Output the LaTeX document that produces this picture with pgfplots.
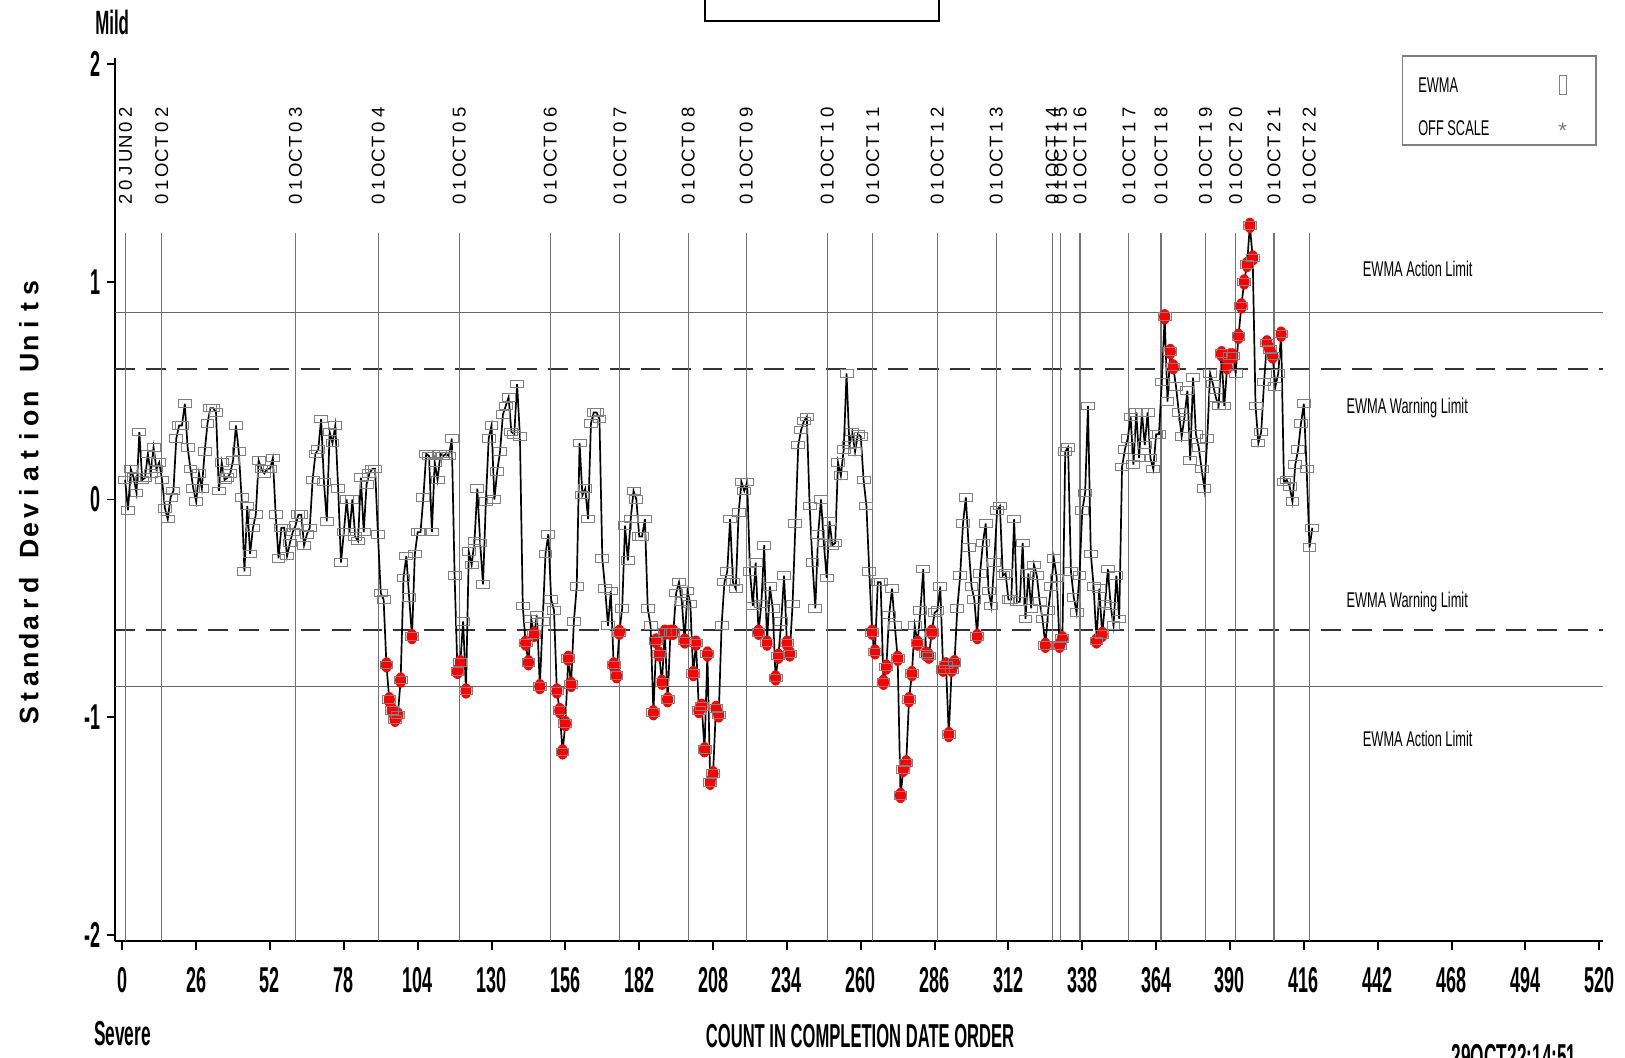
\documentclass[border=0pt]{standalone}
\usepackage{fontspec}
\setmainfont{Liberation Sans}
\newfontfamily\cond[FakeStretch=0.5]{Liberation Sans}
\newfontfamily\condm[FakeStretch=0.6]{Liberation Sans}
\usepackage{pgfplots}
\pgfplotsset{compat=1.18}
\usepackage{pgfplotstable}

\pgfplotstableread{
x y
1 0.09
2 -0.05
3 0.14
4 0.10
5 0.03
6 0.31
7 0.09
8 0.10
9 0.21
10 0.12
11 0.24
12 0.14
13 0.17
14 0.09
15 -0.04
16 -0.09
17 0.01
18 0.04
19 0.28
20 0.34
21 0.34
22 0.44
23 0.24
24 0.14
25 0.05
26 -0.01
27 0.12
28 0.05
29 0.22
30 0.35
31 0.42
32 0.42
33 0.40
34 0.04
35 0.17
36 0.09
37 0.10
38 0.12
39 0.18
40 0.34
41 0.22
42 0.01
43 -0.33
44 -0.03
45 -0.25
46 -0.13
47 -0.07
48 0.18
49 0.14
50 0.12
51 0.14
52 0.14
53 0.19
54 -0.07
55 -0.27
56 -0.13
57 -0.13
58 -0.26
59 -0.20
60 -0.15
61 -0.12
62 -0.07
63 -0.07
64 -0.21
65 -0.16
66 -0.13
67 0.09
68 0.21
69 0.23
70 0.37
71 0.08
72 -0.10
73 0.31
74 0.26
75 0.34
76 0.05
77 -0.29
78 -0.15
79 0.00
80 -0.15
81 0.00
82 -0.17
83 -0.19
84 0.10
85 -0.15
86 0.07
87 0.12
88 0.14
89 0.14
90 -0.16
91 -0.43
92 -0.46
93 -0.76
94 -0.92
95 -0.97
96 -1.01
97 -0.99
98 -0.83
99 -0.36
100 -0.26
101 -0.45
102 -0.63
103 -0.25
104 -0.15
105 -0.15
106 0.01
107 0.21
108 0.20
109 -0.15
110 0.17
111 0.09
112 0.21
113 0.20
114 0.21
115 0.20
116 0.28
117 -0.35
118 -0.79
119 -0.75
120 -0.56
121 -0.88
122 -0.24
123 -0.30
124 -0.19
125 0.05
126 -0.20
127 -0.39
128 -0.01
129 0.28
130 0.34
131 0.00
132 0.13
133 0.22
134 0.39
135 0.43
136 0.47
137 0.31
138 0.30
139 0.53
140 0.29
141 -0.49
142 -0.66
143 -0.75
144 -0.55
145 -0.62
146 -0.53
147 -0.86
148 -0.56
149 -0.25
150 -0.16
151 -0.46
152 -0.51
153 -0.88
154 -0.97
155 -1.16
156 -1.03
157 -0.73
158 -0.85
159 -0.56
160 -0.40
161 0.26
162 0.02
163 0.05
164 -0.09
165 0.35
166 0.40
167 0.40
168 0.37
169 -0.27
170 -0.41
171 -0.58
172 -0.42
173 -0.76
174 -0.81
175 -0.61
176 -0.50
177 -0.12
178 -0.28
179 -0.09
180 0.04
181 0.00
182 -0.17
183 -0.17
184 -0.09
185 -0.50
186 -0.58
187 -0.98
188 -0.65
189 -0.71
190 -0.84
191 -0.61
192 -0.92
193 -0.61
194 -0.61
195 -0.43
196 -0.38
197 -0.47
198 -0.65
199 -0.42
200 -0.48
201 -0.80
202 -0.66
203 -0.97
204 -0.95
205 -1.15
206 -0.71
207 -1.30
208 -1.26
209 -0.96
210 -0.99
211 -0.58
212 -0.38
213 -0.33
214 -0.09
215 -0.38
216 -0.41
217 -0.06
218 0.08
219 0.04
220 0.08
221 -0.33
222 -0.49
223 -0.29
224 -0.61
225 -0.48
226 -0.21
227 -0.66
228 -0.40
229 -0.50
230 -0.82
231 -0.72
232 -0.56
233 -0.35
234 -0.66
235 -0.71
236 -0.48
237 -0.11
238 0.25
239 0.32
240 0.36
241 0.38
242 -0.03
243 -0.29
244 -0.50
245 -0.16
246 0.00
247 -0.20
248 -0.36
249 -0.10
250 -0.21
251 -0.20
252 0.17
253 0.11
254 0.23
255 0.58
256 0.25
257 0.31
258 0.22
259 0.30
260 0.29
261 0.09
262 -0.03
263 -0.33
264 -0.61
265 -0.70
266 -0.38
267 -0.38
268 -0.84
269 -0.77
270 -0.53
271 -0.41
272 -0.58
273 -0.73
274 -1.36
275 -1.24
276 -1.21
277 -0.92
278 -0.80
279 -0.58
280 -0.66
281 -0.51
282 -0.32
283 -0.71
284 -0.72
285 -0.61
286 -0.52
287 -0.51
288 -0.40
289 -0.78
290 -0.76
291 -1.08
292 -0.78
293 -0.75
294 -0.50
295 -0.35
296 -0.11
297 0.01
298 -0.22
299 -0.40
300 -0.46
301 -0.63
302 -0.34
303 -0.20
304 -0.11
305 -0.42
306 -0.49
307 -0.29
308 -0.05
309 -0.03
310 -0.35
311 -0.34
312 -0.46
313 -0.46
314 -0.09
315 -0.47
316 -0.47
317 -0.20
318 -0.55
319 -0.34
320 -0.50
321 -0.30
322 -0.35
323 -0.47
324 -0.55
325 -0.67
326 -0.51
327 -0.40
328 -0.27
329 -0.36
330 -0.67
331 -0.64
332 0.22
333 0.24
334 -0.33
335 -0.45
336 -0.52
337 -0.35
338 -0.05
339 0.03
340 0.43
341 -0.25
342 -0.40
343 -0.65
344 -0.41
345 -0.62
346 -0.48
347 -0.32
348 -0.49
349 -0.58
350 -0.35
351 -0.55
352 0.15
353 0.23
354 0.28
355 0.38
356 0.16
357 0.40
358 0.19
359 0.40
360 0.25
361 0.40
362 0.19
363 0.14
364 0.30
365 0.30
366 0.54
367 0.84
368 0.45
369 0.68
370 0.61
371 0.52
372 0.40
373 0.29
374 0.38
375 0.50
376 0.18
377 0.56
378 0.30
379 0.24
380 0.14
381 0.05
382 0.28
383 0.58
384 0.53
385 0.47
386 0.43
387 0.67
388 0.43
389 0.61
390 0.66
391 0.66
392 0.58
393 0.75
394 0.89
395 1.00
396 1.08
397 1.26
398 1.11
399 0.43
400 0.26
401 0.31
402 0.54
403 0.72
404 0.69
405 0.66
406 0.52
407 0.58
408 0.76
409 0.08
410 0.09
411 0.06
412 -0.01
413 0.16
414 0.23
415 0.35
416 0.44
417 0.14
418 -0.22
419 -0.13
}\ewma

\makeatletter
\newlength\cellw
\def\spreadout#1{\sp@read#1\relax}
\def\sp@read#1{\ifx#1\relax\else\makebox[\cellw]{#1}\expandafter\sp@read\fi}
\makeatother
\newcommand\datelab[1]{{\fontsize{6.6}{7}\selectfont\setlength\cellw{5.16pt}\spreadout{#1}}}
\colorlet{dline}{black!55}

\begin{document}
\begin{tikzpicture}
\begin{axis}[
  at={(40.99pt,41.20pt)}, anchor=south west,
  scale only axis, width=529.5pt, height=314.3pt,
  xmin=-2.5, xmax=521.5, ymin=-2.03, ymax=2.03,
  axis x line*=bottom, axis y line*=left,
  axis line style={black, line width=0.8pt},
  xtick={0,26,...,520},
  ytick={-2,-1,0,1,2},
  yticklabels={-2,-1,0,1,2},
  tick align=outside, major tick length=3pt,
  tick style={black, line width=0.7pt},
  /pgf/number format/assume math mode=true,
  xticklabel style={font=\cond\bfseries\fontsize{12.8}{13}\selectfont, inner sep=0pt, anchor=north, yshift=-6pt},
  yticklabel style={font=\cond\bfseries\fontsize{12.8}{13}\selectfont, inner sep=0pt, anchor=east, xshift=-2pt},
  clip=false,
]
% limit lines
\draw[black!60, line width=0.4pt] (axis cs:-2.5,0.86) -- (axis cs:521.5,0.86);
\draw[black!60, line width=0.4pt] (axis cs:-2.5,-0.86) -- (axis cs:521.5,-0.86);
\draw[black!80, line width=0.5pt, dash pattern=on 7pt off 4pt] (axis cs:-2.5,0.6) -- (axis cs:521.5,0.6);
\draw[black!80, line width=0.5pt, dash pattern=on 7pt off 4pt] (axis cs:-2.5,-0.6) -- (axis cs:521.5,-0.6);
% date reference lines
\begin{scope}[dline, line width=0.4pt]
\draw (axis cs:1.1,-2.03) -- (axis cs:1.1,1.224);
\draw (axis cs:13.9,-2.03) -- (axis cs:13.9,1.224);
\draw (axis cs:61,-2.03) -- (axis cs:61,1.224);
\draw (axis cs:90.1,-2.03) -- (axis cs:90.1,1.224);
\draw (axis cs:118.6,-2.03) -- (axis cs:118.6,1.224);
\draw (axis cs:150.7,-2.03) -- (axis cs:150.7,1.224);
\draw (axis cs:175.2,-2.03) -- (axis cs:175.2,1.224);
\draw (axis cs:199.3,-2.03) -- (axis cs:199.3,1.224);
\draw (axis cs:219.7,-2.03) -- (axis cs:219.7,1.224);
\draw (axis cs:248.2,-2.03) -- (axis cs:248.2,1.224);
\draw (axis cs:264.2,-2.03) -- (axis cs:264.2,1.224);
\draw (axis cs:286.9,-2.03) -- (axis cs:286.9,1.224);
\draw (axis cs:307.7,-2.03) -- (axis cs:307.7,1.224);
\draw (axis cs:327.4,-2.03) -- (axis cs:327.4,1.224);
\draw (axis cs:330.3,-2.03) -- (axis cs:330.3,1.224);
\draw (axis cs:337.2,-2.03) -- (axis cs:337.2,1.224);
\draw (axis cs:354.4,-2.03) -- (axis cs:354.4,1.224);
\draw (axis cs:365.7,-2.03) -- (axis cs:365.7,1.224);
\draw (axis cs:381.4,-2.03) -- (axis cs:381.4,1.224);
\draw (axis cs:392,-2.03) -- (axis cs:392,1.224);
\draw (axis cs:405.5,-2.03) -- (axis cs:405.5,1.224);
\draw (axis cs:417.9,-2.03) -- (axis cs:417.9,1.224);
\end{scope}
% date labels
\begin{scope}[every node/.style={rotate=90, anchor=west, inner sep=0pt}]
\node at (axis cs:1.1,1.343) {\datelab{20JUN02}};
\node at (axis cs:13.9,1.343) {\datelab{01OCT02}};
\node at (axis cs:61,1.343) {\datelab{01OCT03}};
\node at (axis cs:90.1,1.343) {\datelab{01OCT04}};
\node at (axis cs:118.6,1.343) {\datelab{01OCT05}};
\node at (axis cs:150.7,1.343) {\datelab{01OCT06}};
\node at (axis cs:175.2,1.343) {\datelab{01OCT07}};
\node at (axis cs:199.3,1.343) {\datelab{01OCT08}};
\node at (axis cs:219.7,1.343) {\datelab{01OCT09}};
\node at (axis cs:248.2,1.343) {\datelab{01OCT10}};
\node at (axis cs:264.2,1.343) {\datelab{01OCT11}};
\node at (axis cs:286.9,1.343) {\datelab{01OCT12}};
\node at (axis cs:307.7,1.343) {\datelab{01OCT13}};
\node at (axis cs:327.4,1.343) {\datelab{01OCT14}};
\node at (axis cs:330.3,1.343) {\datelab{01OCT15}};
\node at (axis cs:337.2,1.343) {\datelab{01OCT16}};
\node at (axis cs:354.4,1.343) {\datelab{01OCT17}};
\node at (axis cs:365.7,1.343) {\datelab{01OCT18}};
\node at (axis cs:381.4,1.343) {\datelab{01OCT19}};
\node at (axis cs:392,1.343) {\datelab{01OCT20}};
\node at (axis cs:405.5,1.343) {\datelab{01OCT21}};
\node at (axis cs:417.9,1.343) {\datelab{01OCT22}};
\end{scope}
% limit labels
\begin{scope}[every node/.style={font=\condm\fontsize{7.6}{8}\selectfont, inner sep=0pt}]
\node at (axis cs:456.1,1.06) {EWMA Action Limit};
\node at (axis cs:452.4,0.42) {EWMA Warning Limit};
\node at (axis cs:452.4,-0.47) {EWMA Warning Limit};
\node at (axis cs:456.1,-1.10) {EWMA Action Limit};
\end{scope}
% data
\addplot[only marks, mark=*, color=red, mark size=2.2pt,
  mark options={xscale=0.8, yscale=1.15},
  y filter/.expression={abs(y)>0.595 ? y : nan}, unbounded coords=discard]
  table[x=x, y=y] {\ewma};
\addplot[black, line width=0.6pt, mark=square, mark size=1.35pt,
  mark options={draw=gray, line width=0.35pt, xscale=1.7, solid}]
  table[x=x, y=y] {\ewma};
\end{axis}

% surrounding texts
\node[font=\cond\bfseries\fontsize{12}{12}\selectfont, inner sep=0pt] at (39.9pt,368.0pt) {Mild};
\node[font=\cond\bfseries\fontsize{12.3}{12}\selectfont, inner sep=0pt] at (43.6pt,8.5pt) {Severe};
\node[font=\cond\bfseries\fontsize{11.8}{12}\selectfont, inner sep=0pt] at (306.0pt,7.3pt) {COUNT IN COMPLETION DATE ORDER};
\node[font=\cond\bfseries\fontsize{12.3}{12}\selectfont, inner sep=0pt, anchor=north west] at (516.3pt,4.6pt) {29OCT22:14:51};
\node[rotate=90, inner sep=0pt, font=\bfseries\fontsize{9.5}{10}\selectfont] at (10.3pt,197.5pt)
  {\setlength\cellw{6.62pt}\spreadout{Standard~Deviation~Units}};
% title box (cut at top)
\draw[black, line width=0.7pt] (250.7pt,380pt) -- (250.7pt,368.7pt) -- (334.1pt,368.7pt) -- (334.1pt,380pt);
% legend
\draw[gray, line width=0.5pt] (498.9pt,324.5pt) rectangle (567.9pt,356.2pt);
\node[anchor=west, inner sep=0pt, font=\condm\fontsize{7.6}{8}\selectfont] at (504.4pt,345.8pt) {EWMA};
\node[anchor=west, inner sep=0pt, font=\condm\fontsize{7.6}{8}\selectfont] at (504.4pt,330.4pt) {OFF SCALE};
\draw[gray, line width=0.4pt] (554.7pt,342.6pt) rectangle (557.3pt,349.2pt);
\node[inner sep=0pt, text=gray, font=\fontsize{8}{8}\selectfont] at (556.0pt,329.6pt) {*};

\pgfresetboundingbox
\path[use as bounding box] (0,0) rectangle (578.16pt,376.07pt);
\end{tikzpicture}
\end{document}
